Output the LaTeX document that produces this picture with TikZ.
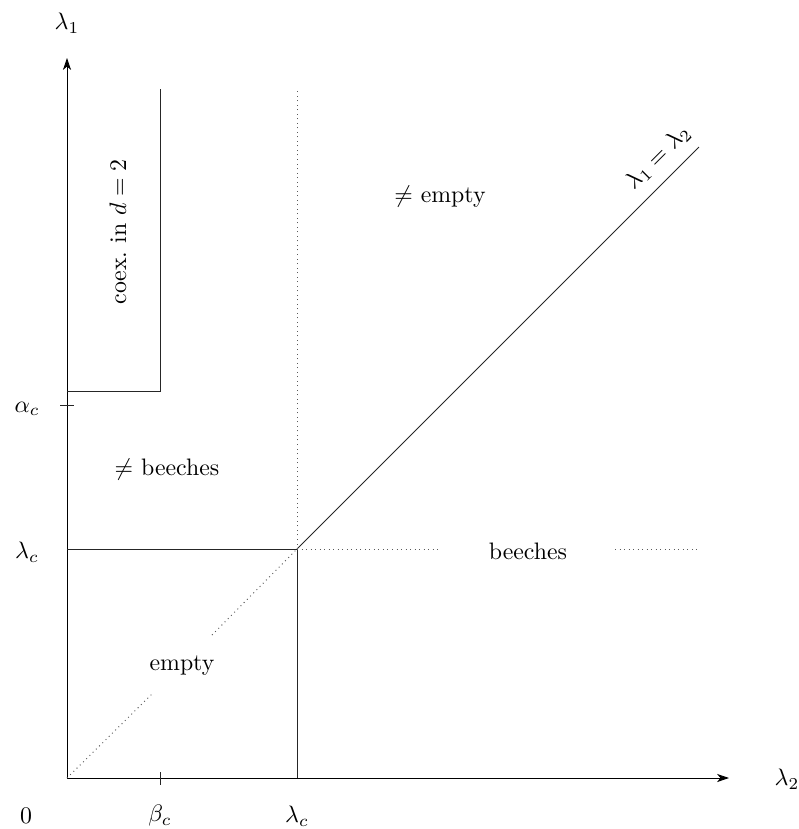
\documentclass[tikz,border=0pt]{standalone}
\usetikzlibrary{arrows.meta}
\begin{document}
\begin{tikzpicture}[x=0.42pt,y=-0.42pt,
  axis/.style={line width=0.38pt,-{Stealth[length=5pt,width=3.4pt,inset=1.4pt]}},
  solid line/.style={line width=0.35pt,black!85},
  dotline/.style={line width=0.4pt,black!65,dash pattern=on 0.4pt off 1.5pt},
  lbl/.style={inner sep=0pt}]
\useasboundingbox (0,0) rectangle (799,829);
% coordinates
\coordinate (O) at (67,778);
\coordinate (ytip) at (67,58);
\coordinate (xtip) at (729,778);
\coordinate (L) at (297,549);
\coordinate (Ly) at (67,549);
\coordinate (Lx) at (297,778);
\coordinate (Ltop) at (297,89);
\coordinate (D) at (699,147);
\coordinate (cb) at (67,391);
\coordinate (cc) at (160,391);
\coordinate (ct) at (160,89);
\coordinate (at1) at (60,405);
\coordinate (at2) at (74,405);
\coordinate (bt1) at (160,772);
\coordinate (bt2) at (160,785);
\coordinate (d1) at (153,693);
\coordinate (d2) at (212,635);
\coordinate (h1) at (438,549);
\coordinate (h2) at (615,549);
\coordinate (h3) at (699,549);
% axes
\draw[axis] (O) -- (ytip);
\draw[axis] (O) -- (xtip);
% ticks
\draw[solid line] (at1) -- (at2);
\draw[solid line] (bt1) -- (bt2);
% solid lines
\draw[solid line] (cb) -- (cc) -- (ct);
\draw[solid line] (Ly) -- (L) -- (Lx);
\draw[solid line] (L) -- (D);
% dotted lines
\draw[dotline] (L) -- (Ltop);
\draw[dotline] (O) -- (d1);
\draw[dotline] (d2) -- (L);
\draw[dotline] (L) -- (h1);
\draw[dotline] (h2) -- (h3);
% labels
\node[lbl,rotate=45] (diag) at (658,157) {$\lambda_1=\lambda_2$};
\node[lbl] (l1) at (67,23) {$\lambda_1$};
\node[lbl] (l2) at (787,779) {$\lambda_2$};
\node[lbl] (zero) at (26,816) {$0$};
\node[lbl] (bc) at (160,816) {$\beta_c$};
\node[lbl] (lcx) at (297,816) {$\lambda_c$};
\node[lbl] (lcy) at (27,552) {$\lambda_c$};
\node[lbl] (ac) at (27,409) {$\alpha_c$};
\node[lbl,rotate=90] (coex) at (118,232) {coex.\ in $d=2$};
\node[lbl] (ne) at (440,197) {$\neq$ empty};
\node[lbl] (nb) at (167,470) {$\neq$ beeches};
\node[lbl] (be) at (528,551) {beeches};
\node[lbl] (em) at (182,666) {empty};
\end{tikzpicture}
\end{document}
